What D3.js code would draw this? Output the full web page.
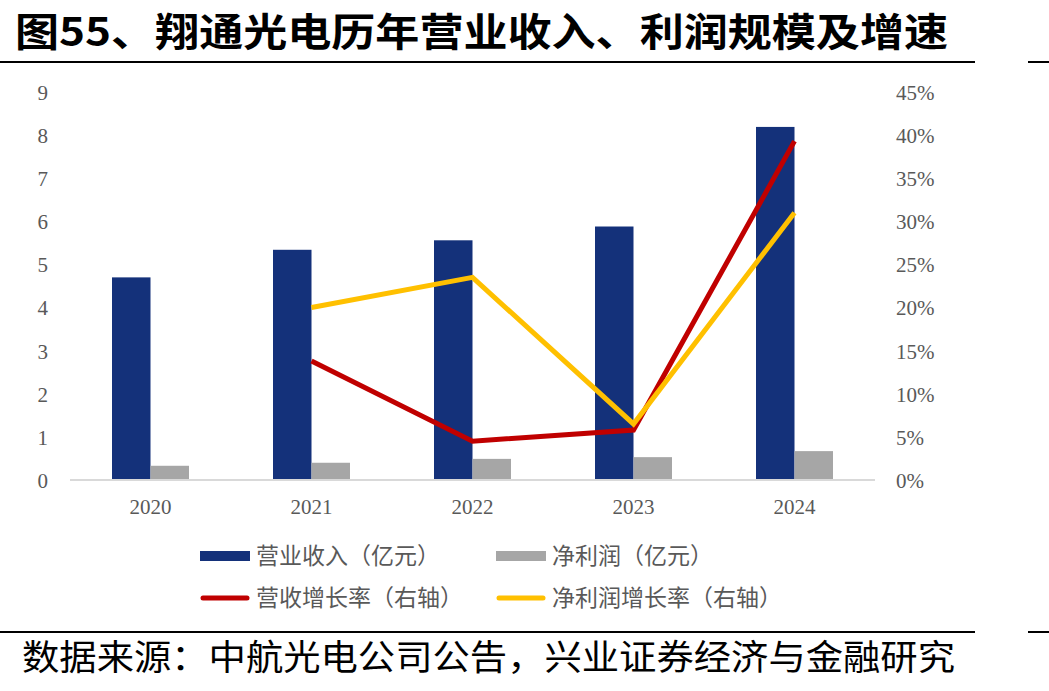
<!DOCTYPE html>
<html>
<head>
<meta charset="utf-8">
<script src="https://cdn.jsdelivr.net/npm/d3@7"></script>
<style>
  body { margin: 0; background: #fff; }
</style>
</head>
<body>
<div id="chart"></div>
<script>
// data
var years = ["2020", "2021", "2022", "2023", "2024"];
var revenue = [4.70, 5.34, 5.56, 5.88, 8.19];      // 营业收入（亿元）
var profit = [0.33, 0.40, 0.49, 0.53, 0.67];       // 净利润（亿元）
var revGrowth = [null, 0.138, 0.045, 0.058, 0.393]; // 营收增长率
var profGrowth = [null, 0.200, 0.235, 0.065, 0.310]; // 净利润增长率
var leftTicks = [0, 1, 2, 3, 4, 5, 6, 7, 8, 9];
var rightTicks = [0, 0.05, 0.10, 0.15, 0.20, 0.25, 0.30, 0.35, 0.40, 0.45];

var titleText = "图55、翔通光电历年营业收入、利润规模及增速";
var sourceText = "数据来源：中航光电公司公告，兴业证券经济与金融研究";

var colors = { rev: "#14317a", prof: "#a6a6a6", revG: "#c00000", profG: "#ffc000" };

var W = 1049, H = 691;
var margin = { top: 92, right: 174, bottom: 211, left: 70 };
var innerW = W - margin.left - margin.right,
    innerH = H - margin.top - margin.bottom;

var svg = d3.select("#chart").append("svg")
    .attr("width", W).attr("height", H);

// title + rules
svg.append("text")
    .attr("x", 15).attr("y", 46)
    .attr("textLength", 933).attr("lengthAdjust", "spacingAndGlyphs")
    .style("font-family", "'Noto Sans CJK SC', sans-serif")
    .style("font-weight", "bold").style("font-size", "39px")
    .style("fill", "#000")
    .text(titleText);

[62, 632].forEach(function (y) {
    svg.append("line").attr("x1", 0).attr("x2", 975).attr("y1", y).attr("y2", y)
        .attr("stroke", "#000").attr("stroke-width", 2);
    svg.append("line").attr("x1", 1028).attr("x2", 1049).attr("y1", y).attr("y2", y)
        .attr("stroke", "#000").attr("stroke-width", 2);
});

svg.append("text")
    .attr("x", 22).attr("y", 670)
    .attr("textLength", 933).attr("lengthAdjust", "spacingAndGlyphs")
    .style("font-family", "'Noto Sans CJK SC', sans-serif")
    .style("font-size", "35px").style("fill", "#000")
    .text(sourceText);

var g = svg.append("g")
    .attr("transform", "translate(" + margin.left + "," + margin.top + ")");

var x = d3.scaleBand().domain(years).range([0, innerW]);
var yL = d3.scaleLinear().domain([0, 9]).range([innerH, 0]);
var yR = d3.scaleLinear().domain([0, 0.45]).range([innerH, 0]);
var barW = 38.5;

// axes
var axisFont = "'Liberation Serif', 'Times New Roman', serif";
var leftAxis = g.append("g")
    .attr("transform", "translate(-22,0)")
    .call(d3.axisLeft(yL).tickValues(leftTicks).tickSize(0).tickPadding(0));
var rightAxis = g.append("g")
    .attr("transform", "translate(" + (innerW + 21) + ",0)")
    .call(d3.axisRight(yR).tickValues(rightTicks).tickSize(0).tickPadding(0)
        .tickFormat(d3.format(".0%")));
var bottomAxis = g.append("g")
    .attr("transform", "translate(0," + innerH + ")")
    .call(d3.axisBottom(x).tickSize(0).tickPadding(19));

[leftAxis, rightAxis, bottomAxis].forEach(function (a) {
    a.select(".domain").remove();
    a.selectAll("text")
        .style("font-family", axisFont).style("font-size", "21px")
        .style("fill", "#595959");
});
leftAxis.selectAll("text").attr("dy", "0.35em");
rightAxis.selectAll("text").attr("dy", "0.35em");

// bars
g.selectAll(".rev").data(years).enter().append("rect")
    .attr("x", function (d) { return x(d) + x.bandwidth() / 2 - barW; })
    .attr("y", function (d, i) { return yL(revenue[i]); })
    .attr("width", barW)
    .attr("height", function (d, i) { return innerH - yL(revenue[i]); })
    .attr("fill", colors.rev);

g.selectAll(".prof").data(years).enter().append("rect")
    .attr("x", function (d) { return x(d) + x.bandwidth() / 2; })
    .attr("y", function (d, i) { return yL(profit[i]); })
    .attr("width", barW)
    .attr("height", function (d, i) { return innerH - yL(profit[i]); })
    .attr("fill", colors.prof);

// baseline
g.append("line").attr("x1", 0).attr("x2", innerW)
    .attr("y1", innerH).attr("y2", innerH)
    .attr("stroke", "#d9d9d9").attr("stroke-width", 2);

// growth lines
var line = d3.line()
    .defined(function (d) { return d.v !== null; })
    .x(function (d) { return x(d.k) + x.bandwidth() / 2; })
    .y(function (d) { return yR(d.v); });

[[revGrowth, colors.revG], [profGrowth, colors.profG]].forEach(function (s) {
    g.append("path")
        .datum(years.map(function (k, i) { return { k: k, v: s[0][i] }; }))
        .attr("fill", "none").attr("stroke", s[1])
        .attr("stroke-width", 5).attr("stroke-linejoin", "miter")
        .attr("d", line);
});

// legend
var legend = [
    { label: "营业收入（亿元）", color: colors.rev, type: "bar", x: 200, y: 556 },
    { label: "净利润（亿元）", color: colors.prof, type: "bar", x: 496, y: 556 },
    { label: "营收增长率（右轴）", color: colors.revG, type: "line", x: 200, y: 598 },
    { label: "净利润增长率（右轴）", color: colors.profG, type: "line", x: 496, y: 598 }
];
var lg = svg.selectAll(".lg").data(legend).enter().append("g")
    .attr("transform", function (d) { return "translate(" + d.x + "," + d.y + ")"; });
lg.append("line")
    .attr("x1", function (d) { return d.type === "line" ? 3 : 0; })
    .attr("x2", function (d) { return d.type === "line" ? 47 : 50; })
    .attr("y1", 0).attr("y2", 0)
    .attr("stroke", function (d) { return d.color; })
    .attr("stroke-width", function (d) { return d.type === "line" ? 5 : 10; })
    .attr("stroke-linecap", function (d) { return d.type === "line" ? "round" : "butt"; });
lg.append("text")
    .attr("x", 56).attr("y", 0).attr("dy", "0.35em")
    .style("font-family", "'Noto Sans CJK SC', sans-serif")
    .style("font-size", "23px").style("fill", "#595959")
    .text(function (d) { return d.label; });
</script>
</body>
</html>
